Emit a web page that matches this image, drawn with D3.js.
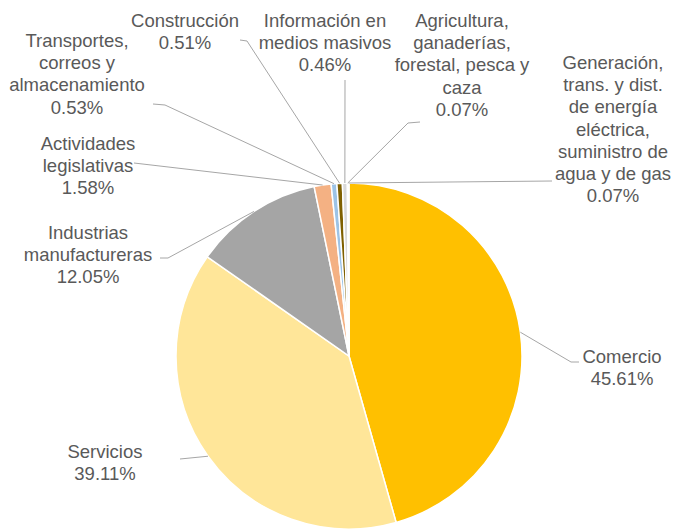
<!DOCTYPE html>
<html>
<head>
<meta charset="utf-8">
<script src="https://cdn.jsdelivr.net/npm/d3@7"></script>
<style>
  html, body { margin: 0; padding: 0; background: #fff; }
  svg { display: block; }
</style>
</head>
<body>
<svg id="chart"></svg>
<script>
// Sectors, in the order they run clockwise from 12 o'clock
const sectors = [
  'Comercio',
  'Servicios',
  'Industrias manufactureras',
  'Actividades legislativas',
  'Transportes, correos y almacenamiento',
  'Construcción',
  'Información en medios masivos',
  'Agricultura, ganaderías, forestal, pesca y caza',
  'Generación, trans. y dist. de energía eléctrica, suministro de agua y de gas'
];
const shares = [45.61, 39.11, 12.05, 1.58, 0.53, 0.51, 0.46, 0.07, 0.07];
// label text as it is broken in the picture
const labelLines = [
  ['Comercio'],
  ['Servicios'],
  ['Industrias', 'manufactureras'],
  ['Actividades', 'legislativas'],
  ['Transportes,', 'correos y', 'almacenamiento'],
  ['Construcción'],
  ['Información en', 'medios masivos'],
  ['Agricultura,', 'ganaderías,', 'forestal, pesca y', 'caza'],
  ['Generación,', 'trans. y dist.', 'de energía', 'eléctrica,', 'suministro de', 'agua y de gas']
];

const colors = ['#FFC000', '#FFE699', '#A5A5A5', '#F4B183', '#9DC3E6', '#7F6000', '#D9D9D9', '#BF9000', '#A9D18E'];

// manual label layout (x center, first line y, leader elbow and end)
const layout = [
  { x: 622, y: 356, elbow: [571, 362], end: [579, 362] },
  { x: 105, y: 451, elbow: null, end: [180, 459] },
  { x: 88, y: 232, elbow: [168, 258], end: [160, 258] },
  { x: 88, y: 143, elbow: null, end: [134, 163] },
  { x: 77, y: 40, elbow: [165, 105], end: [153, 104] },
  { x: 185, y: 20, elbow: [247, 41], end: [240, 40] },
  { x: 325, y: 20, elbow: null, end: [345, 80] },
  { x: 462, y: 20, elbow: [408, 123], end: [420, 122] },
  { x: 613, y: 62, elbow: null, end: [552, 181] }
];

const width = 673;
const height = 531;
const cx = 349, cy = 356, radius = 173;
const lineH = 22.2;

const svg = d3.select('#chart')
  .attr('width', width)
  .attr('height', height)
  .attr('viewBox', `0 0 ${width} ${height}`);

svg.append('rect').attr('width', width).attr('height', height).attr('fill', '#fff');

const data = sectors.map((name, i) => ({ name, value: shares[i], lines: labelLines[i], i }));

const pie = d3.pie()
  .sort(null)
  .value(d => d.value)
  .startAngle(0)
  .endAngle(2 * Math.PI * d3.sum(shares) / 100);

const arcs = pie(data);

const arc = d3.arc().innerRadius(0).outerRadius(radius);

const g = svg.append('g').attr('transform', `translate(${cx},${cy})`);

g.selectAll('path.slice')
  .data(arcs)
  .join('path')
  .attr('class', 'slice')
  .attr('d', arc)
  .attr('fill', d => colors[d.data.i])
  .attr('stroke', '#fff')
  .attr('stroke-width', 1.5);

// Leader lines
const lines = svg.append('g');
arcs.forEach(d => {
  const mid = (d.startAngle + d.endAngle) / 2;
  const p0 = [cx + radius * Math.sin(mid), cy - radius * Math.cos(mid)];
  const L = layout[d.data.i];
  const pts = [p0];
  if (L.elbow) pts.push(L.elbow);
  pts.push(L.end);
  lines.append('path')
    .attr('d', d3.line()(pts))
    .attr('fill', 'none')
    .attr('stroke', '#A6A6A6')
    .attr('stroke-width', 1);
});

// Labels
const labels = svg.append('g')
  .attr('font-family', '"Liberation Sans", Arial, sans-serif')
  .attr('font-size', '18.5px')
  .attr('fill', '#595959')
  .attr('text-anchor', 'middle');

arcs.forEach(d => {
  const L = layout[d.data.i];
  const t = labels.append('text')
    .attr('x', L.x)
    .attr('y', L.y)
    .attr('dominant-baseline', 'central');
  const all = d.data.lines.concat([d.data.value.toFixed(2) + '%']);
  all.forEach((s, k) => {
    t.append('tspan')
      .attr('x', L.x)
      .attr('y', L.y + k * lineH)
      .text(s);
  });
});
</script>
</body>
</html>
